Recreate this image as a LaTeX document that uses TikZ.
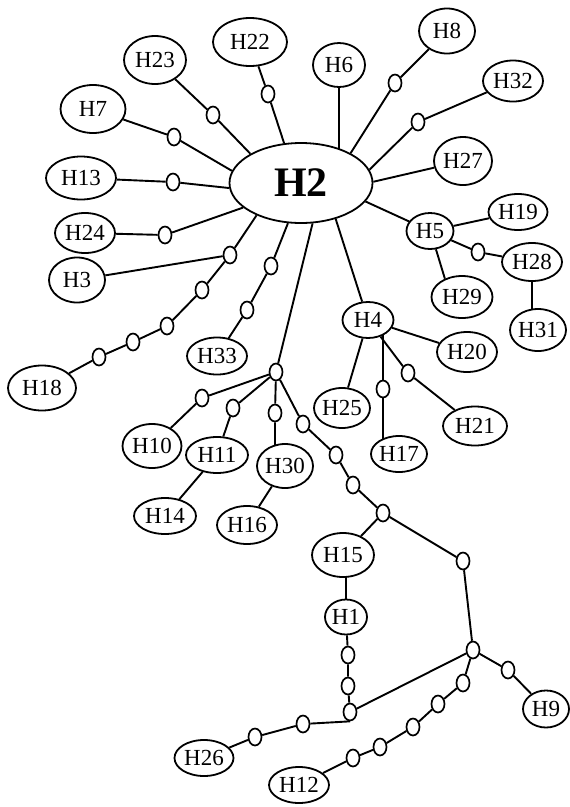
\documentclass[tikz,border=0pt]{standalone}
\usepackage{fontspec}
\setmainfont{Liberation Serif}
\usetikzlibrary{shapes.geometric,backgrounds}
\tikzset{
  hap/.style={ellipse, draw, line width=1.8pt, fill=white, inner sep=0pt, font=\fontsize{23}{23}\selectfont},
  med/.style={ellipse, draw, line width=1.7pt, fill=white, inner sep=0pt, minimum width=13pt, minimum height=17pt},
  link/.style={line width=1.9pt},
}
\newcommand{\hp}[5]{\node[hap, minimum width=#4pt, minimum height=#5pt] (#1) at (#2) {#3};}
\newcommand{\md}[2]{\node[med] (#1) at (#2) {};}
\begin{document}
\begin{tikzpicture}[x=1pt,y=-1pt]
\useasboundingbox (0,0) rectangle (570,807);
% haplotypes
\node[hap, minimum width=143pt, minimum height=80pt, font=\fontsize{42}{42}\selectfont\bfseries] (H2) at (301,183) {H2};
\hp{H23}{155,60}{H23}{62}{48}
\hp{H22}{250,42}{H22}{74}{48}
\hp{H7}{93,109}{H7}{65}{48}
\hp{H13}{81,178}{H13}{70}{43}
\hp{H24}{85,233}{H24}{60}{40}
\hp{H3}{77,280}{H3}{56}{45}
\hp{H18}{42,388}{H18}{68}{45}
\hp{H33}{217,356}{H33}{60}{37}
\hp{H10}{152,446}{H10}{59}{44}
\hp{H11}{217,455}{H11}{62}{36}
\hp{H30}{285,466}{H30}{56}{44}
\hp{H14}{165,516}{H14}{62}{36}
\hp{H16}{247,525}{H16}{60}{38}
\hp{H6}{339,65}{H6}{52}{44}
\hp{H8}{447,31}{H8}{56}{45}
\hp{H32}{513,81}{H32}{60}{41}
\hp{H27}{463,161}{H27}{58}{48}
\hp{H19}{518,212}{H19}{59}{36}
\hp{H5}{430,231}{H5}{47}{36}
\hp{H28}{532,262}{H28}{60}{38}
\hp{H29}{462,297}{H29}{61}{42}
\hp{H31}{538,330}{H31}{56}{42}
\hp{H4}{368,320}{H4}{51}{36}
\hp{H20}{467,352}{H20}{60}{40}
\hp{H25}{342,408}{H25}{53}{40}
\hp{H17}{399,454}{H17}{52}{36}
\hp{H21}{475,426}{H21}{64}{39}
\hp{H15}{343,555}{H15}{62}{44}
\hp{H1}{346,617}{H1}{42}{35}
\hp{H9}{546,709}{H9}{46}{37}
\hp{H26}{204,758}{H26}{59}{36}
\hp{H12}{299,785}{H12}{60}{36}
% median vectors
\md{m22}{268,94}
\md{m23}{213,115}
\md{m7}{174,137}
\md{m13}{173,182}
\md{m24}{165,235}
\md{m3}{230,255}
\md{m18a}{202,290}
\md{m18b}{167,326}
\md{m18c}{133,342}
\md{m18d}{99,357}
\md{m33a}{271,266}
\md{m33b}{247,310}
\md{m8}{395,83}
\md{m32}{418,122}
\md{m28}{478,252}
\md{m17}{383,389}
\md{m21}{408,373}
\md{J}{276,372}
\md{m10}{202,398}
\md{m11}{233,408}
\md{m30}{275,413}
\md{c1}{303,424}
\md{c2}{336,455}
\md{c3}{353,485}
\md{c4}{383,513}
\md{c5}{463,561}
\md{c6}{473,650}
\md{m9}{508,670}
\md{b}{350,712}
\md{h1a}{348,655}
\md{h1b}{348,686}
\md{k1}{463,683}
\md{k2}{438,704}
\md{k3}{413,727}
\md{k4}{380,747}
\md{k5}{353,758}
\md{n1}{303,724}
\md{n2}{255,737}
% connectors
\begin{scope}[on background layer]
\begin{scope}[link]
\draw (H22) -- (m22) -- (H2.113);
\draw (H23) -- (m23) -- (H2.150);
\draw (H7) -- (m7) -- (H2.170);
\draw (H13) -- (m13) -- (H2.184);
\draw (H24) -- (m24) -- (H2.203);
\draw (H3) -- (m3) -- (H2.216);
\draw (H18) -- (m18d) -- (m18c) -- (m18b) -- (m18a) -- (m3);
\draw (H33) -- (m33b) -- (m33a) -- (H2.252);
\draw (J) -- (H2.286);
\draw (H4) -- (H2.314);
\draw (H6.south) -- (H6.south |- H2.center);
\draw (H8) -- (m8) -- (H2.31);
\draw (H32) -- (m32) -- (H2.11);
\draw (H27) -- (H2.1);
\draw (H5) -- (H2.-16);
\draw (H5) -- (H19);
\draw (H5) -- (m28) -- (H28);
\draw (H5.-72) -- (H29.133);
\draw (H28) -- (H28 |- H31.center);
\draw (H4) -- (H20);
\draw (H4) -- (H25);
\draw (m17 |- H4.center) -- (m17) -- (m17 |- H17.center);
\draw (H4) -- (m21) -- (H21);
\draw (J) -- (m10) -- (H10);
\draw (J) -- (m11) -- (H11);
\draw (J) -- (m30) -- (m30 |- H30.center);
\draw (H11) -- (H14);
\draw (H30) -- (H16);
\draw (J) -- (c1) -- (c2) -- (c3) -- (c4) -- (c5) -- (c6);
\draw (c4) -- (H15);
\draw (H1) -- (H1 |- H15.center);
\draw (H1) -- (h1a) -- (h1b) -- (b);
\draw (b) -- (c6);
\draw (c6) -- (m9) -- (H9);
\draw (c6) -- (k1) -- (k2) -- (k3) -- (k4) -- (k5) -- (H12);
\draw (b.south) -- (n1) -- (n2) -- (H26);
\end{scope}
\end{scope}
\end{tikzpicture}
\end{document}
